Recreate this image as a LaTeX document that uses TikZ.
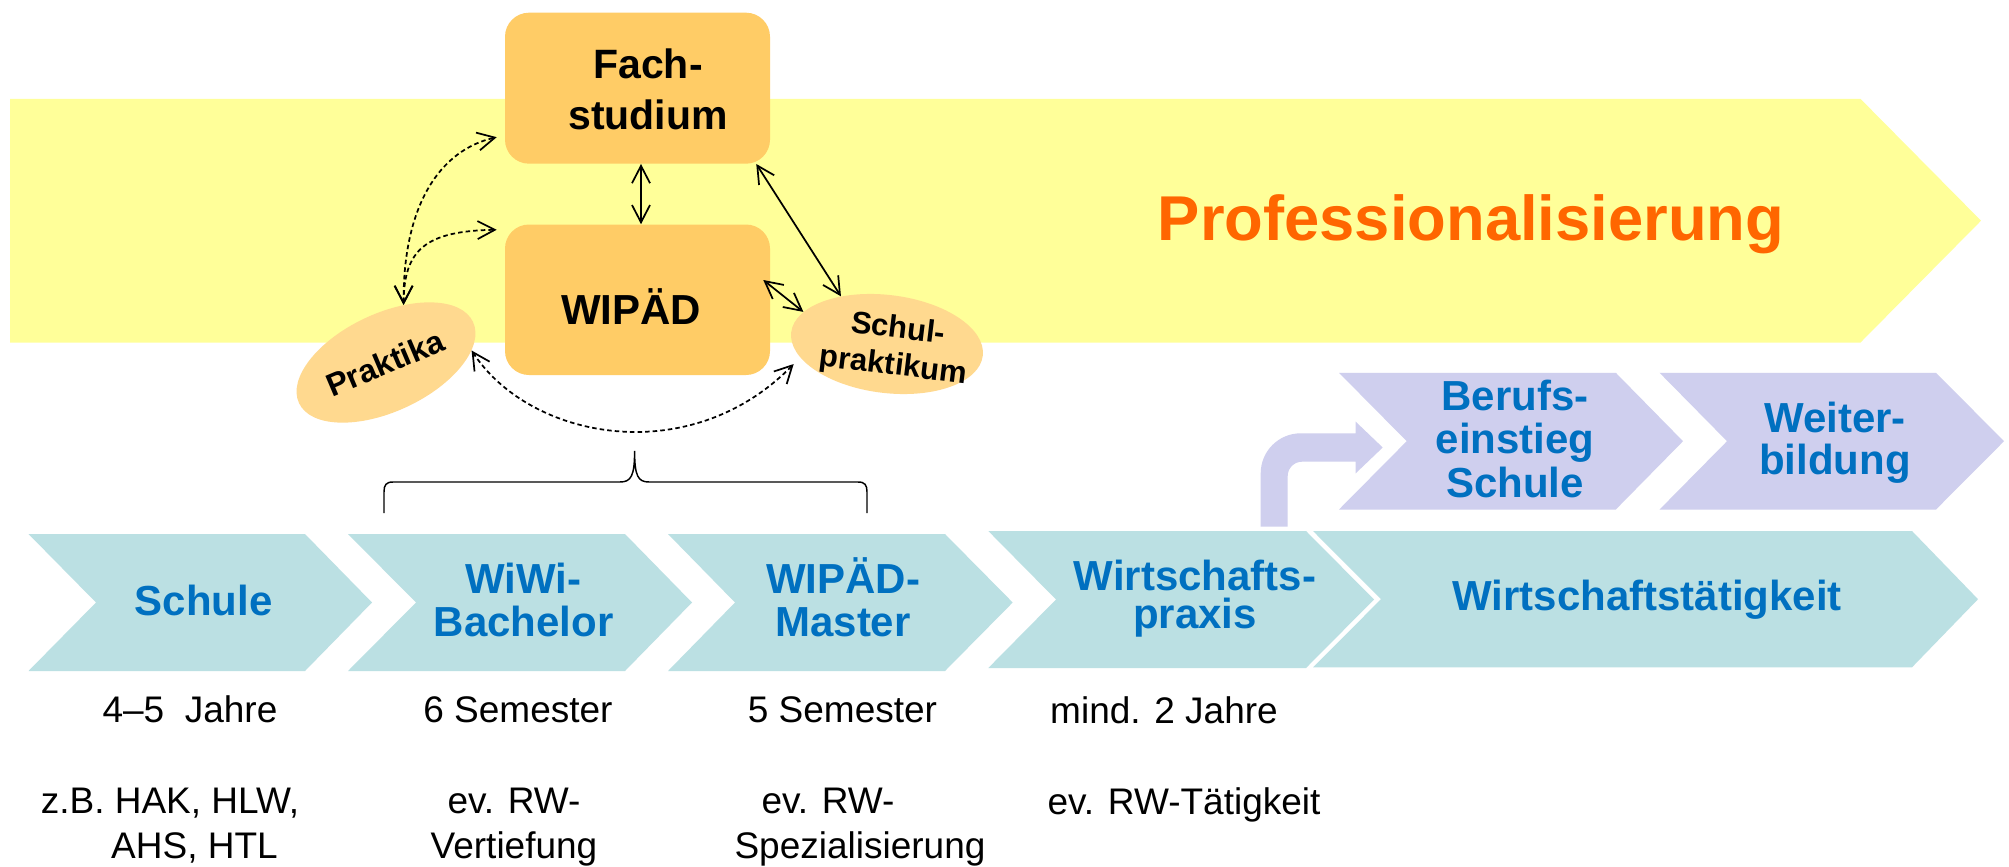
\documentclass[tikz,border=0pt]{standalone}
\usepackage{fontspec}
\setmainfont{Liberation Sans}
\usetikzlibrary{arrows.meta,shapes.geometric,calc}
\newdimen\pxu \pxu=0.75pt
\newcommand\ml[1]{\vtop{\halign{\hfil##\hfil\cr#1\crcr}}}
\newcommand\fsz[2]{\fontsize{#1}{#2}\selectfont}
\definecolor{bandyellow}{HTML}{FFFF99}
\definecolor{boxorange}{HTML}{FFCC66}
\definecolor{ellorange}{HTML}{FFD98F}
\definecolor{tealc}{HTML}{BBE0E3}
\definecolor{purplec}{HTML}{CFCFEE}
\definecolor{bluetext}{HTML}{0070C0}
\definecolor{orangetext}{HTML}{FF6600}
\begin{document}
\begin{tikzpicture}[x=0.75pt,y=-0.75pt,
  lbl/.style={inner sep=0pt, anchor=base},
  chevtext/.style={lbl, text=bluetext, font=\bfseries\fsz{31.5pt}{32.8pt}},
  body/.style={lbl, text=black, font=\fsz{27.75pt}{33.75pt}},
  boxstyle/.style={draw=none, fill=boxorange, rounded corners=18pt, inner sep=0pt},
  ellstyle/.style={ellipse, fill=ellorange, inner sep=0pt},
  barbs/.style={{Straight Barb[length=13pt,width=13.5pt]}-{Straight Barb[length=13pt,width=13.5pt]}},
  biarrow/.style={line width=1.3pt, barbs},
  dasharrow/.style={line width=1.3pt, barbs, dash pattern=on 3.4pt off 2.3pt},
  tealfill/.style={fill=tealc},
  purplefill/.style={fill=purplec}
]
\fill[white] (0,0) rectangle (2009,867);
\useasboundingbox (0,0) rectangle (2009,867);

% band
\fill[bandyellow] (10,98.8) -- (1860.4,98.8) -- (1981,220.7) -- (1860.4,342.6) -- (10,342.6) -- cycle;
\node[lbl, text=orangetext, font=\bfseries\fsz{47.5pt}{57pt}] (prof) at (1471,240) {Professionalisierung};

% boxes
\node[boxstyle, minimum width=265\pxu, minimum height=151\pxu] (fach) at (637.5,88.2) {};
\node[boxstyle, minimum width=265\pxu, minimum height=150.5\pxu] (wipaed) at (637.5,299.75) {};
\node[lbl, font=\bfseries\fsz{30.75pt}{38.5pt}] (fachlbl) at (648,78.5) {\ml{Fach-\cr studium}};
\node[lbl, font=\bfseries\fsz{31.5pt}{38pt}] (wipaedlbl) at (631,324) {WIPÄD};

% ellipses
\node[ellstyle, rotate=25, minimum width=192\pxu, minimum height=98\pxu] (prak) at (386,362.5) {};
\node[inner sep=0pt, rotate=23, font=\bfseries\fsz{24pt}{29pt}] (praklbl) at (385,363) {Praktika};
\node[ellstyle, rotate=-7, minimum width=193\pxu, minimum height=98\pxu] (schul) at (887,344) {};
\node[lbl, rotate=-7, font=\bfseries\fsz{23.25pt}{27.75pt}] (schullbl) at (897,338) {\ml{Schul-\cr praktikum}};

% arrows
\draw[biarrow] ([xshift=3.5\pxu]fach.south) -- ([xshift=3.5\pxu]wipaed.north);
\draw[biarrow] ([xshift=-14\pxu]fach.south east) -- (schul.141);
\draw[biarrow] ([xshift=-7\pxu,yshift=19.75\pxu]wipaed.east) -- (schul.166);
\draw[dasharrow] (prak.48) .. controls (403,205) and (440,150) .. ([xshift=-8\pxu,yshift=-49\pxu]fach.west);
\draw[dasharrow] (prak.48) .. controls (404,250) and (425,231) .. ([xshift=-8\pxu,yshift=70\pxu]wipaed.west);
\draw[dasharrow] (prak.-17) .. controls (530,440) and (690,470) .. ([xshift=-13\pxu]schul.201);

% brace
\draw[line width=1.1pt] (384,513) -- (384,492) .. controls (384,485) and (386,482) .. (393,482) -- (620,482) .. controls (631,482) and (634.6,476) .. (634.6,451) .. controls (634.6,476) and (638,482) .. (649,482) -- (858,482) .. controls (865,482) and (867,485) .. (867,492) -- (867,513);

% teal chevrons
\fill[tealfill] (28.5,534) -- (305,534) -- (372,602.5) -- (305,671) -- (28.5,671) -- (96,602.5) -- cycle;
\fill[tealfill] (348,534) -- (625,534) -- (692,602.5) -- (625,671) -- (348,671) -- (416,602.5) -- cycle;
\fill[tealfill] (668,534) -- (945,534) -- (1012.7,602.5) -- (945,671) -- (668,671) -- (735,602.5) -- cycle;
\fill[tealfill] (988.3,531) -- (1306,531) -- (1374,599.5) -- (1306,668) -- (988.3,668) -- (1056,599.5) -- cycle;
\fill[tealfill] (1313,531) -- (1912,531) -- (1978,599.2) -- (1912,667.3) -- (1313,667.3) -- (1381,599.2) -- cycle;

% purple chevrons
\fill[purplefill] (1339,372.8) -- (1615.8,372.8) -- (1683,441.2) -- (1615.8,509.5) -- (1339,509.5) -- (1406.7,441.2) -- cycle;
\fill[purplefill] (1659.6,372.8) -- (1936,372.8) -- (2004,441.2) -- (1936,509.5) -- (1659.6,509.5) -- (1727,441.2) -- cycle;
% bent arrow
\fill[purplefill] (1260.7,526.7) -- (1260.7,473.3) .. controls (1260.7,451.2) and (1278.6,433.3) .. (1300.7,433.3) -- (1355.7,433.3) -- (1355.7,421.7) -- (1382.7,447.5) -- (1355.7,473.3) -- (1355.7,461.7) -- (1302,461.7) .. controls (1294.1,461.7) and (1287.7,468.1) .. (1287.7,476) -- (1287.7,526.7) -- cycle;

% chevron labels
\node[chevtext] (schuleL) at (203.5,615) {Schule};
\node[chevtext] (wiwiL) at (523.6,593) {\ml{WiWi-\cr Bachelor}};
\node[chevtext] (masterL) at (843,593) {\ml{WIPÄD-\cr Master}};
\node[chevtext, font=\bfseries\fsz{31.5pt}{28.5pt}] (praxisL) at (1195,590) {\ml{Wirtschafts-\cr praxis}};
\node[chevtext] (taetigL) at (1647,610.7) {Wirtschaftstätigkeit};
\node[chevtext] (berufL) at (1515,410) {\ml{Berufs-\cr einstieg\cr Schule}};
\node[chevtext, font=\bfseries\fsz{31.5pt}{31.7pt}] (weiterL) at (1835,432.7) {\ml{Weiter-\cr bildung}};

% body text
\node[body] (d1) at (190,722.7) {4–5\ \ Jahre};
\node[body] (d2) at (518,722.7) {6 Semester};
\node[body] (d3) at (842.5,722.7) {5 Semester};
\node[body] (d4) at (1164,723.3) {mind. 2 Jahre};
\node[body] (e1) at (170,813) {\ml{z.B. HAK, HLW,\cr\hskip36.75pt AHS, HTL}};
\node[body] (e2) at (514,813) {\ml{ev. RW-\cr Vertiefung}};
\node[body] (e3) at (860,813) {\ml{ev. RW-\hskip48pt\cr Spezialisierung}};
\node[body] (e4) at (1184,814.3) {ev. RW-Tätigkeit};
\end{tikzpicture}
\end{document}
